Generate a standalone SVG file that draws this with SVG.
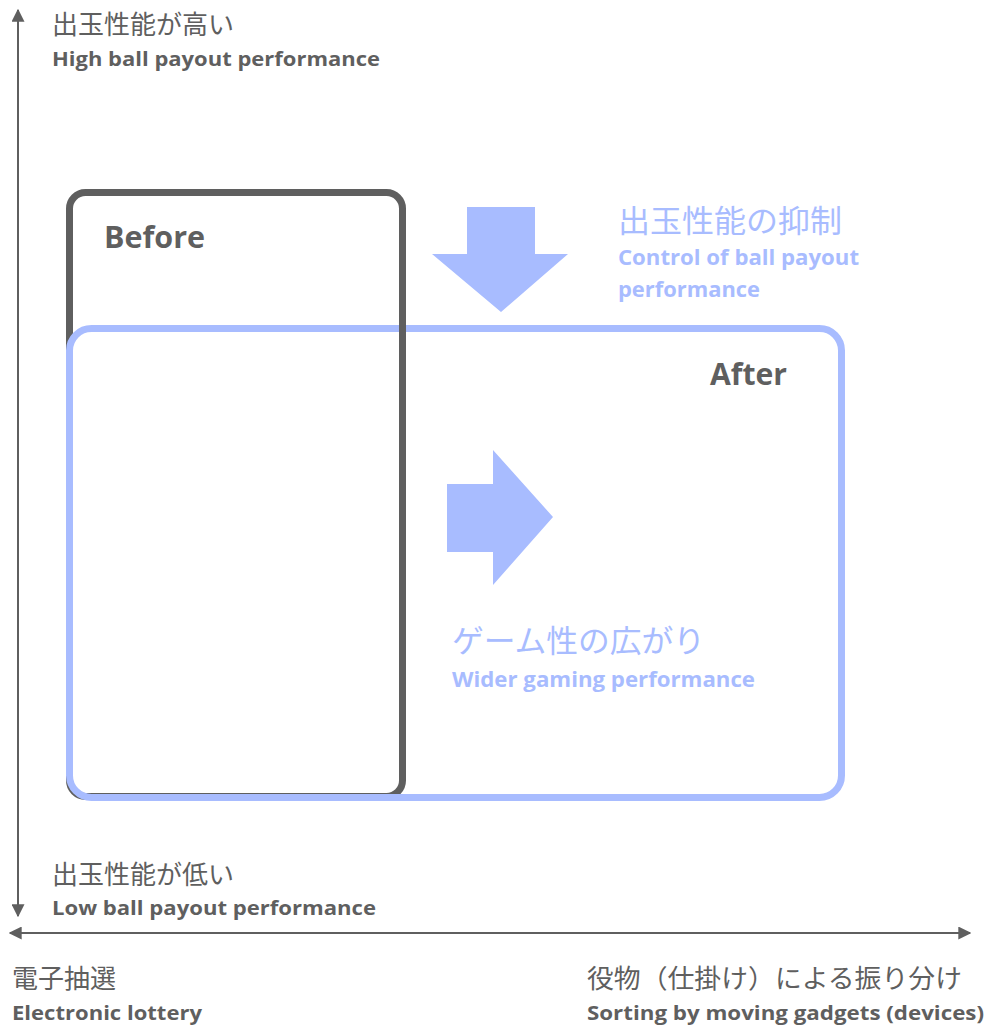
<svg xmlns="http://www.w3.org/2000/svg" width="986" height="1027" viewBox="0 0 986 1027">
<style>
.ax{stroke:#5f5f5f;stroke-width:2;fill:none}
.jp{font-family:"Noto Sans CJK JP","Noto Sans",sans-serif;fill:#5f5f5f}
.en{font-family:"Open Sans","Liberation Sans",sans-serif;font-weight:bold;fill:#5f5f5f}
.bl{fill:#a8bcff}
.box{fill:none;stroke-width:7}
</style>
<defs>
<marker id="ah" viewBox="0 0 10 10" refX="9" refY="5" markerWidth="6.5" markerHeight="6.5" orient="auto-start-reverse"><path d="M0,0 L10,5 L0,10 z" fill="#5f5f5f"/></marker>
</defs>
<rect width="986" height="1027" fill="#fff"/>
<g id="connectors">
<line class="ax" x1="18" y1="916" x2="18" y2="10" marker-start="url(#ah)" marker-end="url(#ah)"/>
<line class="ax" x1="10" y1="933" x2="970" y2="933" marker-start="url(#ah)" marker-end="url(#ah)"/>
</g>
<g id="before-box">
<rect class="box" x="69.5" y="192.5" width="333" height="604" rx="16" stroke="#5f5f5f"/>
</g>
<g id="after-box">
<rect class="box" x="69.5" y="328.5" width="772" height="469" rx="22" stroke="#a8bcff"/>
<line x1="402.5" y1="324" x2="402.5" y2="780" stroke="#5f5f5f" stroke-width="7"/>
</g>
<g id="labels-axes">
<text class="jp" x="52" y="34" font-size="26">出玉性能が高い</text>
<text class="en" x="52" y="66" font-size="20" textLength="328" lengthAdjust="spacingAndGlyphs">High ball payout performance</text>
<text class="jp" x="52" y="884" font-size="26">出玉性能が低い</text>
<text class="en" x="52" y="915" font-size="20" textLength="324" lengthAdjust="spacingAndGlyphs">Low ball payout performance</text>
<text class="jp" x="12" y="988" font-size="26">電子抽選</text>
<text class="en" x="12" y="1020" font-size="20" textLength="190" lengthAdjust="spacingAndGlyphs">Electronic lottery</text>
<text class="jp" x="587" y="988" font-size="26" textLength="375" lengthAdjust="spacingAndGlyphs">役物（仕掛け）による振り分け</text>
<text class="en" x="587" y="1020" font-size="20" textLength="397" lengthAdjust="spacingAndGlyphs">Sorting by moving gadgets (devices)</text>
</g>
<g id="before-label"><text class="en" x="104" y="248" font-size="30" textLength="101" lengthAdjust="spacingAndGlyphs">Before</text></g>
<g id="after-label"><text class="en" x="710" y="385" font-size="30" textLength="77" lengthAdjust="spacingAndGlyphs">After</text></g>
<g id="down-arrow">
<polygon class="bl" points="467,207 535,207 535,254 568,254 501,312 432,254 467,254"/>
<text class="jp" x="618" y="232" font-size="31" style="fill:#a8bcff" textLength="224" lengthAdjust="spacingAndGlyphs">出玉性能の抑制</text>
<text class="en" x="618" y="265" font-size="21" style="fill:#a8bcff" textLength="241" lengthAdjust="spacingAndGlyphs">Control of ball payout</text>
<text class="en" x="618" y="297" font-size="21" style="fill:#a8bcff" textLength="142" lengthAdjust="spacingAndGlyphs">performance</text>
</g>
<g id="right-arrow">
<polygon class="bl" points="447,484 493,484 493,450 553,517 493,585 493,552 447,552"/>
<text class="jp" x="452" y="652" font-size="31" style="fill:#a8bcff" textLength="253" lengthAdjust="spacingAndGlyphs">ゲーム性の広がり</text>
<text class="en" x="452" y="687" font-size="21" style="fill:#a8bcff" textLength="303" lengthAdjust="spacingAndGlyphs">Wider gaming performance</text>
</g>
</svg>
